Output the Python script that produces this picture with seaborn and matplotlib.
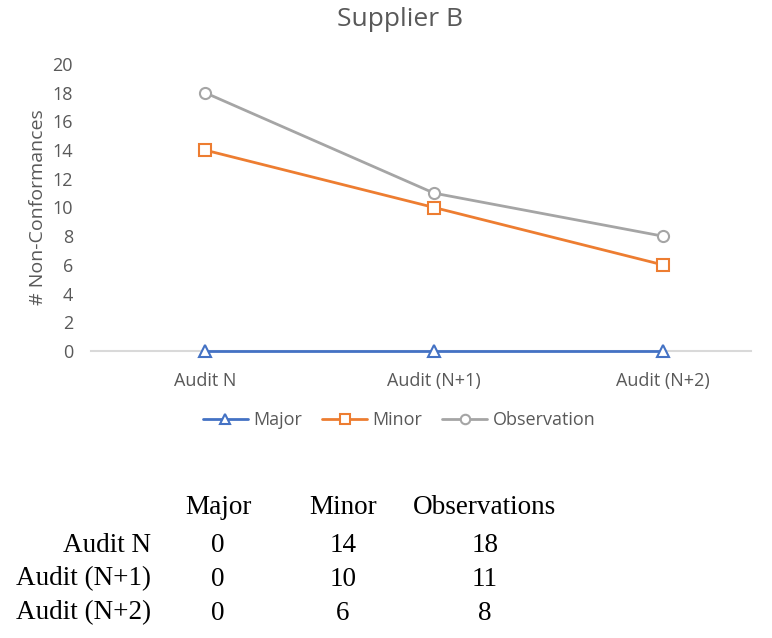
import matplotlib
matplotlib.use("Agg")
import matplotlib.pyplot as plt
import seaborn as sns
import pandas as pd

# Daten
audits = ["Audit N", "Audit (N+1)", "Audit (N+2)"]
major = [0, 0, 0]
minor = [14, 10, 6]
observation = [18, 11, 8]
table_cols = ["Major", "Minor", "Observations"]

sns.set_theme(style="white")
plt.rcParams["font.family"] = ["Open Sans", "DejaVu Sans"]

grey_txt = "#595959"
series = [
    ("Major", major, "#4472C4", "^"),
    ("Minor", minor, "#ED7D31", "s"),
    ("Observation", observation, "#A5A5A5", "o"),
]

fig = plt.figure(figsize=(7.72, 6.38), dpi=100)
ax = fig.add_axes([91 / 772, 1 - 351 / 638, (751 - 91) / 772, (351 - 64) / 638])

df = pd.DataFrame({"audit": audits, "pos": range(len(audits))})
for name, vals, col, mk in series:
    df[name] = vals
    sns.lineplot(data=df, x="pos", y=name, ax=ax, color=col, marker=mk,
                 markersize=8, markerfacecolor="white", markeredgecolor=col,
                 markeredgewidth=1.5, linewidth=2, label=name, clip_on=False,
                 zorder=3)

ax.set_xlim(-0.498, 2.384)
ax.set_ylim(0, 20)
ax.set_yticks(range(0, 21, 2))
ax.set_xticks(range(len(audits)))
ax.set_xticklabels(audits)
ax.tick_params(axis="both", length=0, labelsize=13, colors=grey_txt)
ax.tick_params(axis="y", pad=13)
ax.tick_params(axis="x", pad=15)
for s in ["top", "right", "left"]:
    ax.spines[s].set_visible(False)
ax.spines["bottom"].set_color("#D9D9D9")
ax.spines["bottom"].set_linewidth(1.5)
ax.set_xlabel("")
ax.set_ylabel("# Non-Conformances", fontsize=14, color=grey_txt, labelpad=4)
ax.grid(False)

fig.text(0.518, 1 - 19 / 638, "Supplier B", ha="center", va="center",
         fontsize=19, color=grey_txt)

handles, labels = ax.get_legend_handles_labels()
ax.get_legend().remove()
fig.legend(handles, labels, loc="center", bbox_to_anchor=(0.517, 1 - 420 / 638),
           ncol=3, frameon=False, fontsize=13, handlelength=2.5,
           columnspacing=1.1, handletextpad=0.3, labelcolor=grey_txt,
           markerscale=0.85)

# Tabelle unten
serif = ["Liberation Serif", "DejaVu Serif"]
col_x = [218, 343, 485]
row_y = [545, 579, 613]
for cx, name in zip(col_x, table_cols):
    fig.text(cx / 772, 1 - 508 / 638, name, ha="center", va="center",
             fontsize=19.5, family=serif, color="black")
table_vals = list(zip(major, minor, observation))
for ry, lab, row in zip(row_y, audits, table_vals):
    fig.text(151 / 772, 1 - ry / 638, lab, ha="right", va="center",
             fontsize=19.5, family=serif, color="black")
    for cx, v in zip(col_x, row):
        fig.text(cx / 772, 1 - ry / 638, str(v), ha="center", va="center",
                 fontsize=19.5, family=serif, color="black")

fig.savefig("out.png", dpi=100)
